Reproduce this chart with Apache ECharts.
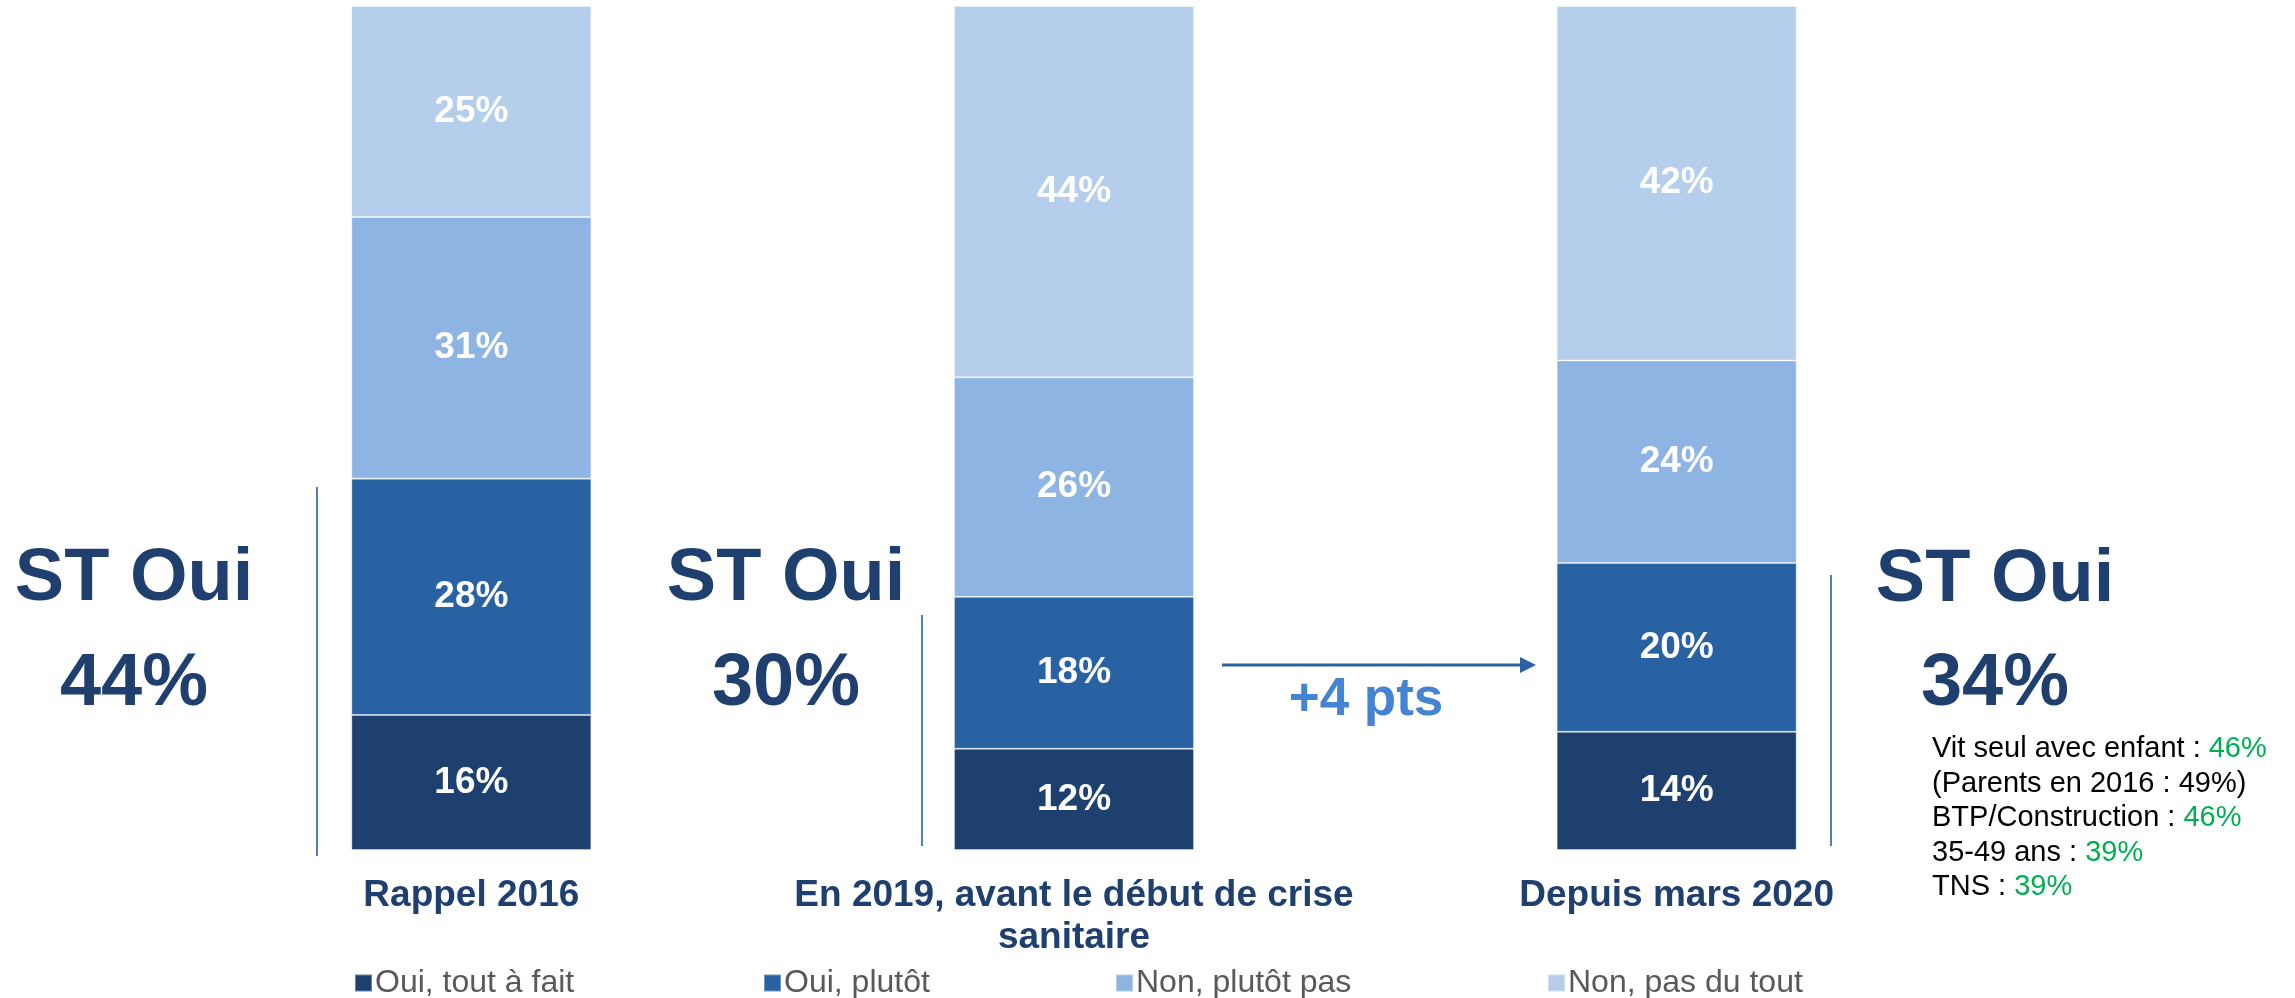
<!DOCTYPE html>
<html>
<head>
<meta charset="utf-8">
<script src="https://cdn.jsdelivr.net/npm/echarts@6/dist/echarts.min.js"></script>
<style>
  html, body { margin: 0; padding: 0; background: #fff; }
  #chart { width: 2295px; height: 998px; }
</style>
</head>
<body>
<div id="chart"></div>
<script>
// data
const categories = ["Rappel 2016", "En 2019, avant le début de crise\nsanitaire", "Depuis mars 2020"];
const seriesNames = ["Oui, tout à fait", "Oui, plutôt", "Non, plutôt pas", "Non, pas du tout"];
const ouiToutAFait = [16, 12, 14];
const ouiPlutot = [28, 18, 20];
const nonPlutotPas = [31, 26, 24];
const nonPasDuTout = [25, 44, 42];
const evolution = "+4 pts";
const focusLines = [
  ["Vit seul avec enfant : ", "46%"],
  ["(Parents en 2016 : 49%)", ""],
  ["BTP/Construction : ", "46%"],
  ["35-49 ans : ", "39%"],
  ["TNS : ", "39%"]
];

const colors = ["#1E406E", "#2962A3", "#8DB4E2", "#B4CEEC"];
const navy = "#1F3F6E";
const font = "'Liberation Sans', Arial, sans-serif";

// ST Oui = tout à fait + plutôt
const stOui = ouiToutAFait.map((v, i) => v + ouiPlutot[i]);

let chartDom = document.getElementById("chart");
let myChart = echarts.init(chartDom);

const allValues = [ouiToutAFait, ouiPlutot, nonPlutotPas, nonPasDuTout];
const series = seriesNames.map((name, i) => ({
  name: name,
  type: "bar",
  stack: "total",
  barWidth: 240,
  data: allValues[i],
  itemStyle: { color: colors[i], borderColor: "rgba(255,255,255,0.35)", borderWidth: 1 },
  label: {
    show: true,
    position: "inside",
    formatter: "{c}%",
    color: "#fff",
    fontFamily: font,
    fontWeight: "bold",
    fontSize: 37
  }
}));

// one legend per item so each sits where the original does
const legendX = [354, 763, 1115, 1547];
const legends = seriesNames.map((name, i) => ({
  data: [name],
  left: legendX[i],
  top: 967,
  padding: 0,
  icon: "rect",
  itemWidth: 17,
  itemHeight: 17,
  itemGap: 0,
  textStyle: { fontFamily: font, fontSize: 32, color: "#595959", padding: [0, 0, 0, -2] }
}));

// big "ST Oui" blocks
const stX = [134, 786, 1995];
const stY = [580, 580, 581];
const graphics = [];
stOui.forEach((v, i) => {
  graphics.push({
    type: "text",
    style: { text: "ST Oui", x: stX[i], y: stY[i], textAlign: "center", textVerticalAlign: "middle",
      font: "bold 74px " + font, fill: navy }
  });
  graphics.push({
    type: "text",
    style: { text: v + "%", x: stX[i], y: 685, textAlign: "center", textVerticalAlign: "middle",
      font: "bold 74px " + font, fill: navy }
  });
});

// separator lines
[[317, 487, 856], [922, 615, 846], [1831, 575, 846]].forEach(l => {
  graphics.push({
    type: "line",
    shape: { x1: l[0], y1: l[1], x2: l[0], y2: l[2] },
    style: { stroke: "#4F7FC0", lineWidth: 2 }
  });
});

// arrow + evolution
graphics.push({
  type: "line",
  shape: { x1: 1222, y1: 665, x2: 1522, y2: 665 },
  style: { stroke: "#2A62A5", lineWidth: 3 }
});
graphics.push({
  type: "polygon",
  shape: { points: [[1520, 657], [1536, 665], [1520, 673]] },
  style: { fill: "#2A62A5" }
});
graphics.push({
  type: "text",
  style: { text: evolution, x: 1366, y: 700, textAlign: "center", textVerticalAlign: "middle",
    font: "bold 53px " + font, fill: "#4584D3" }
});

// details for 2020
focusLines.forEach((l, i) => {
  graphics.push({
    type: "text",
    style: {
      text: "{a|" + l[0] + "}" + (l[1] ? "{b|" + l[1] + "}" : ""),
      x: 1932, y: 749 + i * 34.6, textVerticalAlign: "middle",
      rich: {
        a: { fontFamily: font, fontSize: 29, fill: "#000", color: "#000" },
        b: { fontFamily: font, fontSize: 29, fill: "#00B050", color: "#00B050" }
      }
    }
  });
});

let option = {
  animation: false,
  backgroundColor: "#fff",
  grid: { left: 170, right: 317, top: 6, bottom: 148 },
  legend: legends,
  xAxis: {
    type: "category",
    data: categories,
    axisLine: { show: false },
    axisTick: { show: false },
    axisLabel: {
      margin: 25,
      fontFamily: font,
      fontWeight: "bold",
      fontSize: 37,
      lineHeight: 42,
      color: navy,
      interval: 0
    }
  },
  yAxis: { type: "value", min: 0, max: 100, show: false },
  series: series,
  graphic: graphics
};
option && myChart.setOption(option);
</script>
</body>
</html>
